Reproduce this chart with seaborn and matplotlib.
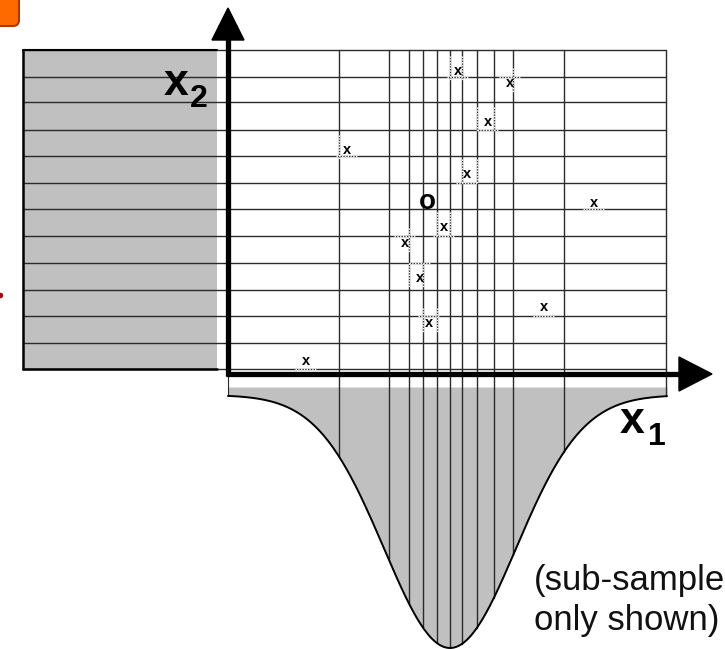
# Latin hypercube sketch: stratified x1/x2 grid with a normal marginal on x1
import numpy as np
import pandas as pd
import matplotlib
matplotlib.use("Agg")
import matplotlib.pyplot as plt
import seaborn as sns
from matplotlib.patches import FancyBboxPatch, Rectangle, Polygon

sns.set_theme(style="white")
plt.rcParams["font.family"] = ["Liberation Sans", "DejaVu Sans"]
plt.rcParams["text.color"] = "black"

# stratum edges (drawing units, y grows downwards)
x_edges = [228, 339, 389, 409, 423, 437, 450, 462, 477, 494, 513, 564, 666]
y_edges = [50, 77, 102, 130, 156, 183, 209, 236, 263, 290, 316, 343, 369]

# one sample per row and per column
sample_x = [458, 510, 488, 347, 467, 594, 444, 405, 420, 544, 429, 306]
sample_y = [71, 83, 122, 150, 174, 203, 227, 243, 278, 307, 323, 361]
centre_x, centre_y = 427, 202

# normal marginal drawn under the x1 axis
mu, sigma = 450, 66
curve_base, curve_depth = 395, 253
band_top = 387

grid_col = "#2b2b2b"
grey = "#c0c0c0"

fig = plt.figure(figsize=(7.25, 6.49), dpi=100)
ax = fig.add_axes([0, 0, 1, 1])
ax.set_xlim(0, 725)
ax.set_ylim(649, 0)
ax.axis("off")


def curve(x):
    x = np.asarray(x, dtype=float)
    return curve_base + curve_depth * np.exp(-(x - mu) ** 2 / (2 * sigma ** 2))


# left shaded strip (x2 marginal)
ax.add_patch(Rectangle((23, y_edges[0]), 194, y_edges[-1] - y_edges[0],
                       facecolor=grey, edgecolor="none", zorder=1))
ax.plot([23, 23], [y_edges[0], y_edges[-1]], color="black", lw=1.8, zorder=3)
ax.plot([23, 217], [y_edges[0], y_edges[0]], color="black", lw=1.5, zorder=3)
ax.plot([23, 217], [y_edges[-1], y_edges[-1]], color="black", lw=1.8, zorder=3)

# bell curve (x1 marginal)
xs = np.linspace(x_edges[0], x_edges[-1] + 1, 400)
bell = pd.DataFrame({"x": xs, "y": curve(xs)})
ax.fill_between(bell["x"], band_top, bell["y"], color=grey, lw=0, zorder=1)
sns.lineplot(data=bell, x="x", y="y", color="black", lw=1.4, ax=ax,
             sort=False, zorder=3)

# grid
for y in y_edges:
    ax.plot([23, x_edges[-1]], [y, y], color=grid_col, lw=1.0, zorder=2)
for x in x_edges[1:]:
    ax.plot([x, x], [y_edges[0], float(curve(x))], color=grid_col, lw=1.0, zorder=2)
ax.plot([x_edges[0], x_edges[0]], [372, float(curve(x_edges[0]))],
        color=grid_col, lw=0.8, zorder=2)

# dotted text-box look around each sample
for px, py in zip(sample_x, sample_y):
    bx0, bx1, by0, by1 = px - 11, px + 10, py - 15, py + 9
    for x in x_edges[1:-1]:
        if bx0 <= x <= bx1:
            ax.plot([x, x], [by0, by1], color="white", lw=1.0,
                    ls=(0, (1, 1)), zorder=2.5)
    for y in y_edges:
        if by0 <= y <= by1:
            ax.plot([bx0, bx1], [y, y], color="white", lw=1.0,
                    ls=(0, (1, 1)), zorder=2.5)

# axes with arrowheads
ax.plot([228, 228], [376, 38], color="black", lw=3.8, solid_capstyle="butt", zorder=4)
ax.add_patch(Polygon([[212, 40], [244, 40], [228, 8]], closed=True,
                     facecolor="black", edgecolor="black", zorder=4))
ax.plot([226, 681], [374, 374], color="black", lw=3.8, solid_capstyle="butt", zorder=4)
ax.add_patch(Polygon([[679, 357], [679, 391], [712, 374]], closed=True,
                     facecolor="black", edgecolor="black", zorder=4))

# samples
for px, py in zip(sample_x, sample_y):
    ax.text(px, py, "x", ha="center", va="center", fontsize=10.5,
            fontweight="bold", color="black", zorder=5)
ax.text(centre_x, centre_y, "o", ha="center", va="center", fontsize=20,
        fontweight="bold", color="black", zorder=5)

# axis labels
ax.text(164, 95, "x", fontsize=32, fontweight="bold", va="baseline",
        color="black", zorder=5)
ax.text(190, 107, "2", fontsize=23, fontweight="bold", va="baseline",
        color="black", zorder=5)
ax.text(620, 433, "x", fontsize=32, fontweight="bold", va="baseline",
        color="black", zorder=5)
ax.text(648, 445, "1", fontsize=23, fontweight="bold", va="baseline",
        color="black", zorder=5)

ax.text(534, 590, "(sub-sample", fontsize=25, va="baseline", color="#111111",
        zorder=5)
ax.text(534, 630, "only shown)", fontsize=25, va="baseline", color="#111111",
        zorder=5)

# slide leftovers at the edge
ax.add_patch(FancyBboxPatch((-12, -12), 31, 38,
                            boxstyle="round,pad=0,rounding_size=6",
                            facecolor="#ff6a00", edgecolor="#a83c00", lw=1.5,
                            zorder=5))
ax.plot([0], [295], marker="o", ms=3, color="#9a1010", zorder=5)

fig.savefig("out.png", dpi=100)
